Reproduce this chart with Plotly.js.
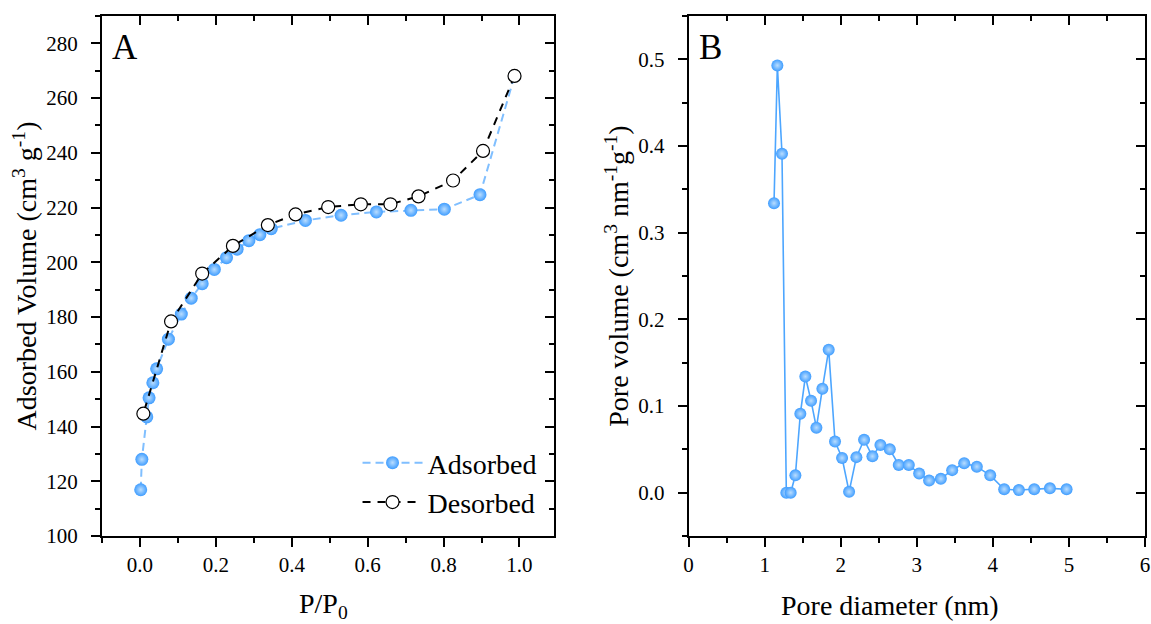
<!DOCTYPE html>
<html>
<head>
<meta charset="utf-8">
<script src="https://cdn.plot.ly/plotly-3.0.1.min.js"></script>
<style>html,body{margin:0;padding:0;background:#fff;}#chart{width:1151px;height:624px;}</style>
</head>
<body>
<div id="chart"></div>
<script>
// Panel A: N2 adsorption/desorption isotherm
const P_ads = [0.002,0.005,0.018,0.024,0.034,0.044,0.075,0.109,0.135,0.164,0.196,0.228,0.256,0.287,0.316,0.346,0.436,0.530,0.623,0.714,0.802,0.896,0.987];
const V_ads = [116.9,128.0,143.5,150.5,156.0,161.1,171.9,181.1,186.9,192.2,197.4,201.7,204.8,207.9,210.1,212.3,215.3,217.2,218.4,219.0,219.4,224.7,268.1];
const P_des = [0.987,0.904,0.825,0.734,0.660,0.582,0.496,0.410,0.337,0.245,0.164,0.082,0.009];
const V_des = [268.1,240.7,229.9,224.1,221.2,221.2,220.2,217.5,213.6,206.0,195.9,178.4,144.7];
// Panel B: pore size distribution
const D_pore = [1.123,1.167,1.228,1.285,1.342,1.404,1.469,1.535,1.610,1.680,1.759,1.842,1.925,2.018,2.110,2.206,2.307,2.417,2.522,2.645,2.763,2.895,3.031,3.162,3.316,3.465,3.623,3.789,3.965,4.149,4.342,4.544,4.750,4.969];
const PV = [0.334,0.493,0.391,0.000,0.000,0.020,0.091,0.134,0.106,0.075,0.120,0.165,0.059,0.040,0.001,0.041,0.061,0.042,0.055,0.050,0.032,0.032,0.022,0.014,0.016,0.026,0.034,0.030,0.020,0.004,0.003,0.004,0.005,0.004];

const seriesNames = ['Adsorbed','Desorbed'];
const panelLabels = ['A','B'];
const xTitles = ['P/P<sub>0</sub>','Pore diameter (nm)'];
const yTitles = ['Adsorbed Volume (cm<sup>3</sup> g<sup>-1</sup>)','Pore volume (cm<sup>3</sup> nm<sup>-1</sup>g<sup>-1</sup>)'];

const FONT = 'Liberation Serif, Times New Roman, serif';
const blue = '#3f9dff';
const sphere = {color: blue, size: 13, line:{width:0}, gradient:{type:'radial', color:'#b9ddff'}};

const traces = [
  {x:P_ads, y:V_ads, name:seriesNames[0], mode:'lines+markers', xaxis:'x', yaxis:'y',
   line:{color:'#80bfff', width:2, dash:'8px,5px'}, marker:sphere},
  {x:P_des, y:V_des, name:seriesNames[1], mode:'lines+markers', xaxis:'x', yaxis:'y',
   line:{color:'#000', width:2, dash:'8px,7px'},
   marker:{color:'#fff', size:13, symbol:'circle', line:{color:'#000', width:1.2}}},
  {x:D_pore, y:PV, name:'PSD', mode:'lines+markers', xaxis:'x2', yaxis:'y2', showlegend:false,
   line:{color:'#4da6ff', width:1.6}, marker:Object.assign({}, sphere, {size:12})},
  // helpers so the mirror axes (inward ticks) are drawn
  {x:[0], y:[-1e9], xaxis:'x3', yaxis:'y3', mode:'markers', marker:{opacity:0}, showlegend:false, hoverinfo:'skip'},
  {x:[0], y:[-1e9], xaxis:'x4', yaxis:'y4', mode:'markers', marker:{opacity:0}, showlegend:false, hoverinfo:'skip'}
];

const tickFont = {family:FONT, size:21, color:'#000'};
const titleFont = {family:FONT, size:28, color:'#000'};
const common = {showline:true, linewidth:2, linecolor:'#000', ticks:'outside', ticklen:9, tickwidth:2, tickcolor:'#000',
  showgrid:false, zeroline:false, tickfont:tickFont, fixedrange:true};
const mirror = {showline:true, linewidth:2, linecolor:'#000', ticks:'inside', ticklen:9, tickwidth:2, tickcolor:'#000',
  showgrid:false, zeroline:false, showticklabels:false, fixedrange:true};

const dA = [0, 0.433], dB = [0.5624, 1];
const layout = {
  width:1151, height:624,
  margin:{l:101.7, r:6.3, t:15.8, b:88.3},
  paper_bgcolor:'#fff', plot_bgcolor:'rgba(0,0,0,0)',
  font:{family:FONT, color:'#000'},
  showlegend:true,
  legend:{x:0.245, xanchor:'left', y:0.103, yanchor:'middle', bgcolor:'rgba(0,0,0,0)', borderwidth:0,
    font:{family:FONT, size:28, color:'#000'}, itemwidth:60, tracegroupgap:0},
  xaxis:Object.assign({}, common, {domain:dA, anchor:'y', range:[-0.1,1.09], dtick:0.2, tick0:0, tickformat:'.1f',
    minor:{dtick:0.1, ticks:'outside', ticklen:5, tickwidth:2, tickcolor:'#000'}}),
  yaxis:Object.assign({}, common, {domain:[0,1], anchor:'x', range:[100,290], dtick:20, tick0:0,
    minor:{dtick:10, ticks:'outside', ticklen:5, tickwidth:2, tickcolor:'#000'}, ticklabelstandoff:9,
    title:{text:yTitles[0], font:titleFont, standoff:1}}),
  xaxis2:Object.assign({}, common, {domain:dB, anchor:'y2', range:[0,6], dtick:1, tick0:0,
    minor:{dtick:0.5, ticks:'outside', ticklen:5, tickwidth:2, tickcolor:'#000'}}),
  yaxis2:Object.assign({}, common, {domain:[0,1], anchor:'x2', range:[-0.05,0.55], dtick:0.1, tick0:0, tickformat:'.1f',
    minor:{dtick:0.05, ticks:'outside', ticklen:5, tickwidth:2, tickcolor:'#000'}, ticklabelstandoff:9,
    title:{text:yTitles[1], font:titleFont, standoff:1}}),
  xaxis3:Object.assign({}, mirror, {overlaying:'x', side:'top', anchor:'y', range:[-0.1,1.09], dtick:0.2, tick0:0,
    minor:{dtick:0.1, ticks:'inside', ticklen:5, tickwidth:2, tickcolor:'#000'}}),
  yaxis3:Object.assign({}, mirror, {overlaying:'y', side:'right', anchor:'x', range:[100,290], dtick:20, tick0:0,
    minor:{dtick:10, ticks:'inside', ticklen:5, tickwidth:2, tickcolor:'#000'}}),
  xaxis4:Object.assign({}, mirror, {overlaying:'x2', side:'top', anchor:'y2', range:[0,6], dtick:1, tick0:0,
    minor:{dtick:0.5, ticks:'inside', ticklen:5, tickwidth:2, tickcolor:'#000'}}),
  yaxis4:Object.assign({}, mirror, {overlaying:'y2', side:'right', anchor:'x2', range:[-0.05,0.55], dtick:0.1, tick0:0,
    minor:{dtick:0.05, ticks:'inside', ticklen:5, tickwidth:2, tickcolor:'#000'}}),
  annotations:[
    {text:panelLabels[0], xref:'x domain', yref:'y domain', x:0.05, y:0.94, xanchor:'center', yanchor:'middle', showarrow:false, font:{family:FONT, size:35, color:'#000'}},
    {text:panelLabels[1], xref:'x2 domain', yref:'y2 domain', x:0.048, y:0.94, xanchor:'center', yanchor:'middle', showarrow:false, font:{family:FONT, size:35, color:'#000'}},
    {text:xTitles[0], xref:'paper', yref:'paper', x:0.2127, y:-0.133, xanchor:'center', yanchor:'middle', showarrow:false, font:titleFont},
    {text:xTitles[1], xref:'paper', yref:'paper', x:0.7558, y:-0.133, xanchor:'center', yanchor:'middle', showarrow:false, font:titleFont}
  ]
};
Plotly.newPlot('chart', traces, layout, {staticPlot:true, displayModeBar:false});
</script>
</body>
</html>
